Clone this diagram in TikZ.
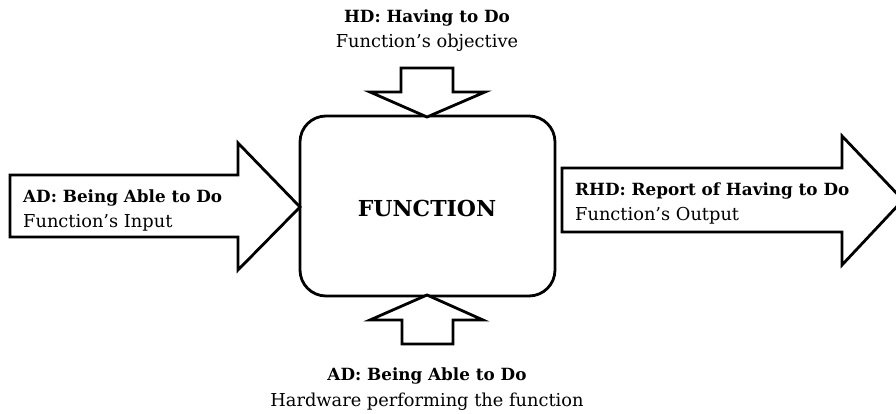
\documentclass[tikz,border=0pt]{standalone}
\usepackage{fontspec}
\setmainfont{DejaVu Serif}
\begin{document}
\begin{tikzpicture}[x=1pt,y=-1pt,
  outline/.style={draw=black,line width=2.8pt,line join=miter,fill=white},
  fbox/.style={draw=black,line width=2.8pt,rounded corners=26pt,minimum width=255pt,minimum height=180pt},
  head/.style={font=\fontsize{16.8}{20}\selectfont\bfseries,inner sep=0pt},
  sub/.style={font=\fontsize{17.8}{20}\selectfont,inner sep=0pt},
  hl/.style={head,anchor=base west},
  sl/.style={sub,anchor=base west},
  hc/.style={head,anchor=base},
  sc/.style={sub,anchor=base}]
\useasboundingbox (0,0) rectangle (896,414);
\begin{scope}
\clip (0,0) rectangle (896,414);
% main function block
\node[fbox] (fn) at (427.5,206) {};
\node[font=\fontsize{22}{26}\selectfont\bfseries,anchor=base] (fnlabel) at (427,216) {FUNCTION};
% input arrow (left)
\draw[outline] (10,175) -- (238,175) -- (238,143) -- (300,207) -- (238,270) -- (238,237) -- (10,237) -- cycle;
% output arrow (right)
\draw[outline] (562,168) -- (842,168) -- (842,136) -- (903,200) -- (842,265) -- (842,232) -- (562,232) -- cycle;
% objective arrow (top)
\draw[outline] (401,68) -- (453,68) -- (453,92) -- (485,92) -- (427,117) -- (370,92) -- (401,92) -- cycle;
% hardware arrow (bottom)
\draw[outline] (402,344) -- (453,344) -- (453,320) -- (483,320) -- (427,295) -- (370,320) -- (402,320) -- cycle;
\end{scope}
% labels
\node[hl] (inhead) at (23,202) {AD: Being Able to Do};
\node[sl] (insub) at (23,227) {Function’s Input};
\node[hl] (outhead) at (575,195) {RHD: Report of Having to Do};
\node[sl] (outsub) at (575,220) {Function’s Output};
\node[hc] (tophead) at (427,23) {HD: Having to Do};
\node[sc] (topsub) at (427,48) {Function’s objective};
\node[hc] (bothead) at (427,380) {AD: Being Able to Do};
\node[sc] (botsub) at (427,406) {Hardware performing the function};
\end{tikzpicture}
\end{document}
